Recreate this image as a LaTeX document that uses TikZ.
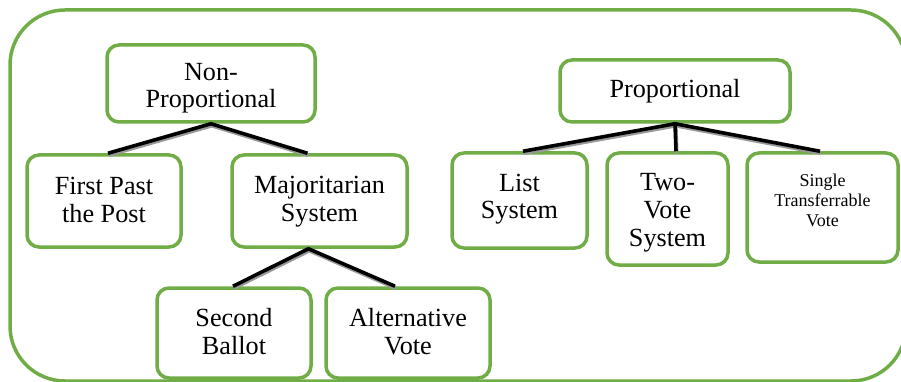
\documentclass[tikz,border=0pt]{standalone}
\usepackage{fontspec}
\setmainfont{Liberation Serif}
\definecolor{leaf}{HTML}{70AD47}
% stacked, centred lines, moved up or down without changing their reported size
\newcommand\stackedtext[2]{\raisebox{#1}[\height][\depth]{\begin{tabular}{@{}c@{}}#2\end{tabular}}}
\begin{document}
\begin{tikzpicture}[x=1pt,y=-1pt,
  box/.style={draw=leaf, line width=3.5pt, rounded corners=12pt, align=center,
    inner sep=0pt, fill=white, font=\fontsize{26.2}{27.8}\selectfont},
  smallbox/.style={box, font=\fontsize{18}{20}\selectfont},
  link/.style={line width=3.6pt, black},
  linkshade/.style={line width=3.6pt, black!40, transform canvas={xshift=0.8pt,yshift=-2pt}}]
\useasboundingbox (0,0) rectangle (901,382);
\clip (0,0) rectangle (901,382);
\fill[white] (0,0) rectangle (901,382);
% outer rounded frame
\draw[leaf, line width=3.5pt, rounded corners=55pt] (10,10) rectangle (906,381);

% non-proportional branch
\node[box, minimum width=208, minimum height=77] (np)  at (211,83.5)  {\stackedtext{-5pt}{Non-\\Proportional}};
\node[box, minimum width=154, minimum height=92] (fp)  at (104,201)   {\stackedtext{-2pt}{First Past\\the Post}};
\node[box, minimum width=175, minimum height=92] (maj) at (319.5,201) {\stackedtext{-1pt}{Majoritarian\\System}};
\node[box, minimum width=154, minimum height=90] (sb)  at (234,333)   {\stackedtext{-2pt}{Second\\Ballot}};
\node[box, minimum width=164, minimum height=90] (av)  at (408,333)   {\stackedtext{-2pt}{Alternative\\Vote}};

% proportional branch
\node[box, minimum width=230, minimum height=62]  (pr)  at (675,91)    {Proportional};
\node[box, minimum width=135, minimum height=95]  (ls)  at (519.5,200.5) {\stackedtext{1pt}{List\\System}};
\node[box, minimum width=121, minimum height=112] (tv)  at (667.5,209) {\stackedtext{-4pt}{Two-\\Vote\\System}};
\node[smallbox, minimum width=151, minimum height=109] (stv) at (822.5,207.5) {\stackedtext{5pt}{Single\\Transferrable\\Vote}};

% connectors (soft grey shade under each black line)
\foreach \s in {linkshade, link} {
  \draw[\s] ([xshift=4pt]fp.north) -- (np.south) -- ([xshift=-12pt]maj.north);
  \draw[\s] ([xshift=-1pt]sb.north) -- ([xshift=-11pt]maj.south) -- ([xshift=-13pt]av.north);
  \draw[\s] ([xshift=3.5pt]ls.north) -- (pr.south) -- ([xshift=-2.5pt]stv.north);
  \draw[\s] (pr.south) -- ([xshift=8.5pt]tv.north);
}
\end{tikzpicture}
\end{document}
